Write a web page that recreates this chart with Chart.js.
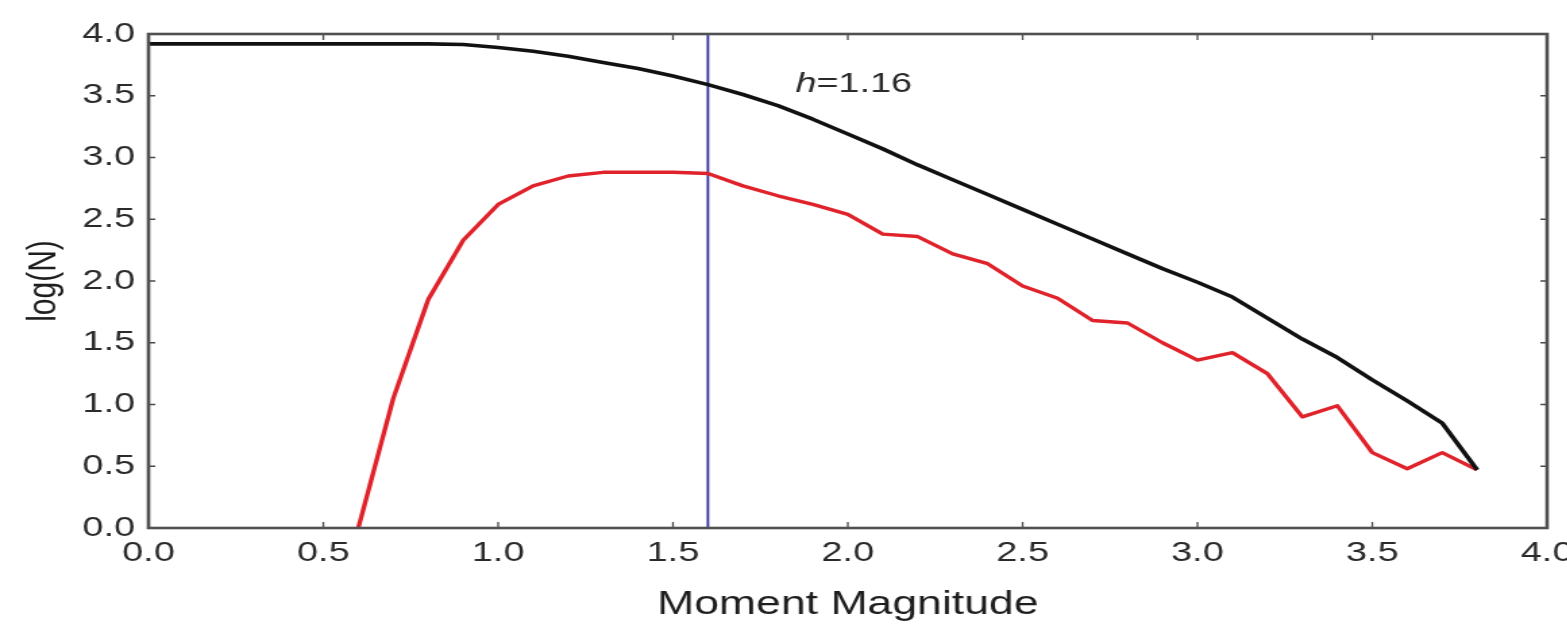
<!DOCTYPE html>
<html><head><meta charset="utf-8">
<script src="https://cdn.jsdelivr.net/npm/chart.js@4/dist/chart.umd.min.js"></script>
<style>
html,body{margin:0;padding:0;background:#fff;overflow:hidden;width:1567px;height:629px;}
#wrap{width:1190px;height:629px;transform:scaleX(1.35);transform-origin:0 0;}
</style></head><body>
<div id="wrap"><canvas id="c" width="1190" height="629"></canvas></div>
<script>
const magnitudes = [0.0,0.1,0.2,0.3,0.4,0.5,0.6,0.7,0.8,0.9,1.0,1.1,1.2,1.3,1.4,1.5,1.6,1.7,1.8,1.9,2.0,2.1,2.2,2.3,2.4,2.5,2.6,2.7,2.8,2.9,3.0,3.1,3.2,3.3,3.4,3.5,3.6,3.7,3.8];
const logNAll = [3.92,3.92,3.92,3.92,3.92,3.92,3.92,3.92,3.92,3.915,3.89,3.86,3.82,3.77,3.72,3.66,3.59,3.51,3.42,3.31,3.19,3.07,2.94,2.82,2.70,2.58,2.46,2.34,2.22,2.10,1.99,1.87,1.70,1.53,1.38,1.20,1.03,0.85,0.47];
const logNDetected = [null,null,null,null,null,null,0.00,1.05,1.85,2.33,2.62,2.77,2.85,2.88,2.88,2.88,2.87,2.77,2.69,2.62,2.54,2.38,2.36,2.22,2.14,1.96,1.86,1.68,1.66,1.50,1.36,1.42,1.25,0.90,0.99,0.61,0.48,0.61,0.47];
const hMagnitude = 1.6;
const annotationItalic = 'h';
const annotationRest = '=1.16';
const annotationAt = {x: 1.85, y: 3.59};
const xTickValues = [0.0,0.5,1.0,1.5,2.0,2.5,3.0,3.5,4.0];
const yTickValues = [0.0,0.5,1.0,1.5,2.0,2.5,3.0,3.5,4.0];
const xLabel = 'Moment Magnitude';
const yLabel = 'log(N)';

const FONT = '"Liberation Sans", Arial, Helvetica, sans-serif';

const allPts = magnitudes.map((m,i)=>({x:m,y:logNAll[i]}));
const detPts = magnitudes.map((m,i)=>({x:m,y:logNDetected[i]})).filter(p=>p.y!==null);
const hPts = [{x:hMagnitude,y:yTickValues[0]},{x:hMagnitude,y:yTickValues[yTickValues.length-1]}];

const framePlugin = {
  id:'frame',
  afterDraw(chart){
    const {ctx, chartArea:a, scales:{x,y}} = chart;
    ctx.save();
    ctx.strokeStyle = '#4a4a4a';
    ctx.lineWidth = 1.3;
    xTickValues.forEach(v=>{
      const px = x.getPixelForValue(v);
      ctx.beginPath();
      ctx.moveTo(px,a.bottom); ctx.lineTo(px,a.bottom-6);
      ctx.moveTo(px,a.top); ctx.lineTo(px,a.top+6);
      ctx.stroke();
    });
    yTickValues.forEach(v=>{
      const py = y.getPixelForValue(v);
      ctx.beginPath();
      ctx.moveTo(a.left,py); ctx.lineTo(a.left+5,py);
      ctx.moveTo(a.right,py); ctx.lineTo(a.right-5,py);
      ctx.stroke();
    });
    ctx.strokeStyle = '#505050';
    ctx.lineWidth = 2.6;
    ctx.strokeRect(a.left,a.top,a.right-a.left,a.bottom-a.top);
    // annotation
    const ax = x.getPixelForValue(annotationAt.x);
    const ay = y.getPixelForValue(annotationAt.y);
    ctx.fillStyle = '#2a2a2a';
    ctx.textBaseline = 'middle';
    ctx.textAlign = 'left';
    ctx.font = 'italic 28px ' + FONT;
    ctx.fillText(annotationItalic, ax, ay);
    const w = ctx.measureText(annotationItalic).width;
    ctx.font = '28px ' + FONT;
    ctx.fillText(annotationRest, ax + w, ay);
    ctx.restore();
  }
};

new Chart(document.getElementById('c'), {
  type:'scatter',
  data:{datasets:[
    {data:allPts, showLine:true, borderColor:'#111', borderWidth:3.6, pointRadius:0, tension:0, borderJoinStyle:'round'},
    {data:detPts, showLine:true, borderColor:'#e0222a', borderWidth:3.4, pointRadius:0, tension:0, borderJoinStyle:'round'},
    {data:hPts, showLine:true, borderColor:'#2e2e9e', borderWidth:1.8, pointRadius:0}
  ]},
  options:{
    responsive:false, animation:false, devicePixelRatio:1,
    layout:{padding:{top:34,right:44,bottom:0,left:0}},
    plugins:{legend:{display:false}, tooltip:{enabled:false}},
    scales:{
      x:{type:'linear', min:0, max:4,
        afterBuildTicks: s => { s.ticks = xTickValues.map(v=>({value:v})); },
        ticks:{callback:v=>Number(v).toFixed(1), font:{family:FONT,size:28}, color:'#2a2a2a', padding:8, maxRotation:0, autoSkip:false},
        grid:{display:false, drawTicks:false}, border:{display:false},
        title:{display:true, text:xLabel, font:{family:FONT,size:33}, color:'#1e1e1e', padding:{top:0,bottom:4}},
        afterFit: s => { s.height = 101; }
      },
      y:{type:'linear', min:0, max:4,
        afterBuildTicks: s => { s.ticks = yTickValues.map(v=>({value:v})); },
        ticks:{callback:v=>Number(v).toFixed(1), font:{family:FONT,size:28}, color:'#2a2a2a', padding:10, autoSkip:false},
        grid:{display:false, drawTicks:false}, border:{display:false},
        title:{display:true, text:yLabel, font:{family:FONT,size:30}, color:'#1e1e1e', padding:{top:15,bottom:0}},
        afterFit: s => { s.width = 110; }
      }
    }
  },
  plugins:[framePlugin]
});
</script>
</body></html>
